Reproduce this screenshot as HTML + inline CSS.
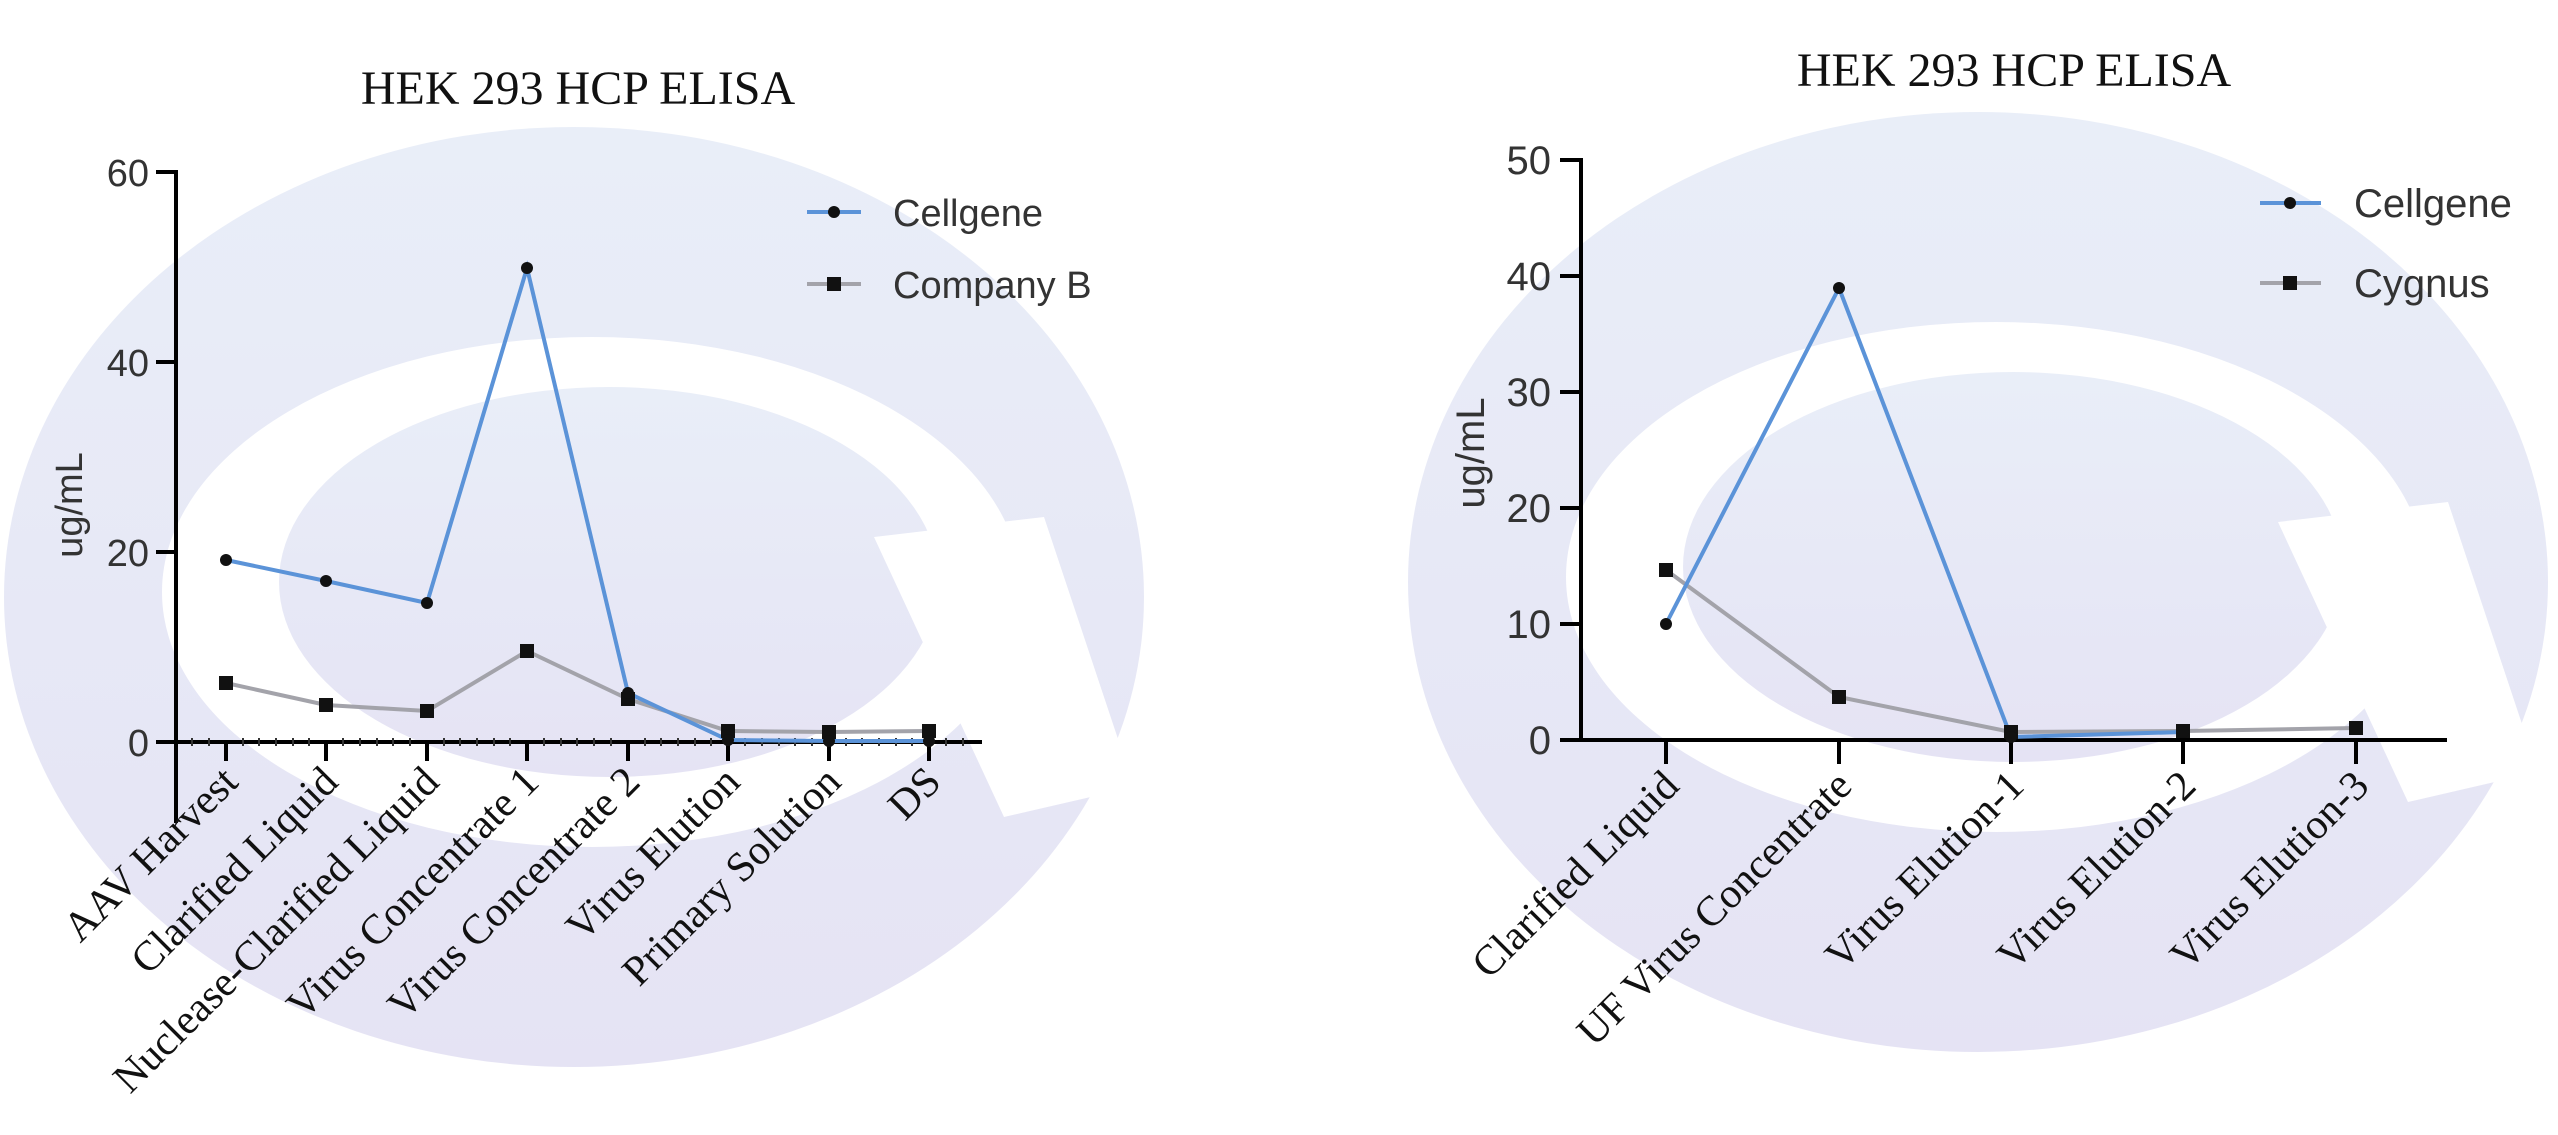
<!DOCTYPE html>
<html><head><meta charset="utf-8"><style>
html,body{margin:0;padding:0;background:#fff;}
svg{display:block;}
.t{font-family:"Liberation Serif",serif;fill:#111;}
.s{font-family:"Liberation Sans",sans-serif;fill:#333;}
</style></head><body>
<svg width="2558" height="1135" viewBox="0 0 2558 1135" xmlns="http://www.w3.org/2000/svg">
<defs>
<linearGradient id="g" x1="0" y1="0" x2="0" y2="1">
<stop offset="0" stop-color="#e9eef8"/><stop offset="1" stop-color="#e5e3f4"/>
</linearGradient>
<g id="wm">
<ellipse cx="0" cy="10" rx="570" ry="470" fill="url(#g)"/>
<ellipse cx="18" cy="5" rx="430" ry="255" fill="#fff"/>
<ellipse cx="35" cy="-5" rx="330" ry="195" fill="url(#g)"/>
<polygon points="300,-50 470,-70 560,200 430,230" fill="#fff"/>
</g>
</defs>
<use href="#wm" x="574" y="587"/>
<use href="#wm" x="1978" y="572"/>

<!-- LEFT CHART -->
<text class="t" x="578" y="104" font-size="48" text-anchor="middle">HEK 293 HCP ELISA</text>
<g stroke="#000" stroke-width="4" fill="none">
<line x1="176" y1="170" x2="176" y2="823"/>
<line x1="156" y1="172" x2="176" y2="172"/>
<line x1="156" y1="362" x2="176" y2="362"/>
<line x1="156" y1="552" x2="176" y2="552"/>
<line x1="156" y1="742" x2="982" y2="742"/>
</g>
<g stroke="#000" stroke-width="4">
<line x1="226" y1="742" x2="226" y2="761"/><line x1="326" y1="742" x2="326" y2="761"/>
<line x1="427" y1="742" x2="427" y2="761"/><line x1="527" y1="742" x2="527" y2="761"/>
<line x1="628" y1="742" x2="628" y2="761"/><line x1="728" y1="742" x2="728" y2="761"/>
<line x1="829" y1="742" x2="829" y2="761"/><line x1="929" y1="742" x2="929" y2="761"/>
</g>
<g stroke="#333" stroke-width="2">
<line x1="192" y1="738" x2="192" y2="746"/><line x1="209" y1="738" x2="209" y2="746"/>
<line x1="243" y1="738" x2="243" y2="746"/><line x1="259" y1="738" x2="259" y2="746"/><line x1="276" y1="738" x2="276" y2="746"/><line x1="293" y1="738" x2="293" y2="746"/><line x1="309" y1="738" x2="309" y2="746"/>
<line x1="343" y1="738" x2="343" y2="746"/><line x1="360" y1="738" x2="360" y2="746"/><line x1="377" y1="738" x2="377" y2="746"/><line x1="393" y1="738" x2="393" y2="746"/><line x1="410" y1="738" x2="410" y2="746"/>
<line x1="444" y1="738" x2="444" y2="746"/><line x1="460" y1="738" x2="460" y2="746"/><line x1="477" y1="738" x2="477" y2="746"/><line x1="494" y1="738" x2="494" y2="746"/><line x1="510" y1="738" x2="510" y2="746"/>
<line x1="544" y1="738" x2="544" y2="746"/><line x1="561" y1="738" x2="561" y2="746"/><line x1="577" y1="738" x2="577" y2="746"/><line x1="594" y1="738" x2="594" y2="746"/><line x1="611" y1="738" x2="611" y2="746"/>
<line x1="645" y1="738" x2="645" y2="746"/><line x1="661" y1="738" x2="661" y2="746"/><line x1="678" y1="738" x2="678" y2="746"/><line x1="695" y1="738" x2="695" y2="746"/><line x1="711" y1="738" x2="711" y2="746"/>
<line x1="745" y1="738" x2="745" y2="746"/><line x1="762" y1="738" x2="762" y2="746"/><line x1="779" y1="738" x2="779" y2="746"/><line x1="795" y1="738" x2="795" y2="746"/><line x1="812" y1="738" x2="812" y2="746"/>
<line x1="846" y1="738" x2="846" y2="746"/><line x1="862" y1="738" x2="862" y2="746"/><line x1="879" y1="738" x2="879" y2="746"/><line x1="896" y1="738" x2="896" y2="746"/><line x1="912" y1="738" x2="912" y2="746"/>
<line x1="946" y1="738" x2="946" y2="746"/><line x1="963" y1="738" x2="963" y2="746"/>
</g>
<g class="s" font-size="38" text-anchor="end">
<text x="149" y="186">60</text><text x="149" y="376">40</text><text x="149" y="566">20</text><text x="149" y="756">0</text>
</g>
<text class="s" font-size="38" text-anchor="middle" transform="translate(82,505) rotate(-90)">ug/mL</text>
<polyline fill="none" stroke="#a3a3aa" stroke-width="4" points="226,683 326,705 427,711 527,651 628,699 728,731 829,732 929,731"/>
<polyline fill="none" stroke="#5b93d8" stroke-width="4" points="226,560 326,581 427,603 527,268 628,693 728,740 829,741 929,741"/>
<g fill="#111">
<rect x="219" y="676" width="14" height="14"/><rect x="319" y="698" width="14" height="14"/><rect x="420" y="704" width="14" height="14"/><rect x="520" y="644" width="14" height="14"/><rect x="621" y="692" width="14" height="14"/><rect x="721" y="724" width="14" height="14"/><rect x="822" y="725" width="14" height="14"/><rect x="922" y="724" width="14" height="14"/>
<circle cx="226" cy="560" r="6"/><circle cx="326" cy="581" r="6"/><circle cx="427" cy="603" r="6"/><circle cx="527" cy="268" r="6"/><circle cx="628" cy="693" r="6"/><circle cx="728" cy="740" r="6"/><circle cx="829" cy="741" r="6"/><circle cx="929" cy="741" r="6"/>
</g>
<line x1="807" y1="212" x2="861" y2="212" stroke="#5b93d8" stroke-width="4"/><circle cx="834" cy="212" r="6" fill="#111"/>
<line x1="807" y1="284" x2="861" y2="284" stroke="#a3a3aa" stroke-width="4"/><rect x="827" y="277" width="14" height="14" fill="#111"/>
<text class="s" x="893" y="226" font-size="38">Cellgene</text>
<text class="s" x="893" y="298" font-size="38">Company B</text>
<g class="t" font-size="42" text-anchor="end">
<text transform="translate(240,784) rotate(-45)">AAV Harvest</text>
<text transform="translate(340,784) rotate(-45)">Clarified Liquid</text>
<text transform="translate(441,784) rotate(-45)">Nuclease-Clarified Liquid</text>
<text transform="translate(541,784) rotate(-45)">Virus Concentrate 1</text>
<text transform="translate(642,784) rotate(-45)">Virus Concentrate 2</text>
<text transform="translate(742,784) rotate(-45)">Virus Elution</text>
<text transform="translate(843,784) rotate(-45)">Primary Solution</text>
<text transform="translate(943,784) rotate(-45)">DS</text>
</g>

<!-- RIGHT CHART -->
<text class="t" x="2014" y="86" font-size="48" text-anchor="middle">HEK 293 HCP ELISA</text>
<g stroke="#000" stroke-width="4" fill="none">
<line x1="1581" y1="158" x2="1581" y2="742"/>
<line x1="1560" y1="160" x2="1581" y2="160"/>
<line x1="1560" y1="276" x2="1581" y2="276"/>
<line x1="1560" y1="392" x2="1581" y2="392"/>
<line x1="1560" y1="508" x2="1581" y2="508"/>
<line x1="1560" y1="624" x2="1581" y2="624"/>
<line x1="1560" y1="740" x2="2447" y2="740"/>
<line x1="1666" y1="740" x2="1666" y2="764"/><line x1="1839" y1="740" x2="1839" y2="764"/>
<line x1="2011" y1="740" x2="2011" y2="764"/><line x1="2183" y1="740" x2="2183" y2="764"/>
<line x1="2356" y1="740" x2="2356" y2="764"/>
</g>
<g class="s" font-size="40" text-anchor="end">
<text x="1551" y="174">50</text><text x="1551" y="290">40</text><text x="1551" y="406">30</text><text x="1551" y="522">20</text><text x="1551" y="638">10</text><text x="1551" y="754">0</text>
</g>
<text class="s" font-size="40" text-anchor="middle" transform="translate(1484,453) rotate(-90)">ug/mL</text>
<polyline fill="none" stroke="#a3a3aa" stroke-width="4" points="1666,570 1839,697 2011,732 2183,731 2356,728"/>
<polyline fill="none" stroke="#5b93d8" stroke-width="4" points="1666,624 1839,288 2011,737 2183,732"/>
<g fill="#111">
<rect x="1659" y="563" width="14" height="14"/><rect x="1832" y="690" width="14" height="14"/><rect x="2004" y="725" width="14" height="14"/><rect x="2176" y="724" width="14" height="14"/><rect x="2349" y="721" width="14" height="14"/>
<circle cx="1666" cy="624" r="6"/><circle cx="1839" cy="288" r="6"/><circle cx="2011" cy="737" r="6"/><circle cx="2183" cy="732" r="6"/>
</g>
<line x1="2260" y1="203" x2="2321" y2="203" stroke="#5b93d8" stroke-width="4"/><circle cx="2290" cy="203" r="6" fill="#111"/>
<line x1="2260" y1="283" x2="2321" y2="283" stroke="#a3a3aa" stroke-width="4"/><rect x="2283" y="276" width="14" height="14" fill="#111"/>
<text class="s" x="2354" y="217" font-size="40">Cellgene</text>
<text class="s" x="2354" y="297" font-size="40">Cygnus</text>
<g class="t" font-size="42" text-anchor="end">
<text transform="translate(1681,788) rotate(-45)">Clarified Liquid</text>
<text transform="translate(1854,788) rotate(-45)">UF Virus Concentrate</text>
<text transform="translate(2026,788) rotate(-45)">Virus Elution-1</text>
<text transform="translate(2198,788) rotate(-45)">Virus Elution-2</text>
<text transform="translate(2371,788) rotate(-45)">Virus Elution-3</text>
</g>
</svg>
</body></html>
